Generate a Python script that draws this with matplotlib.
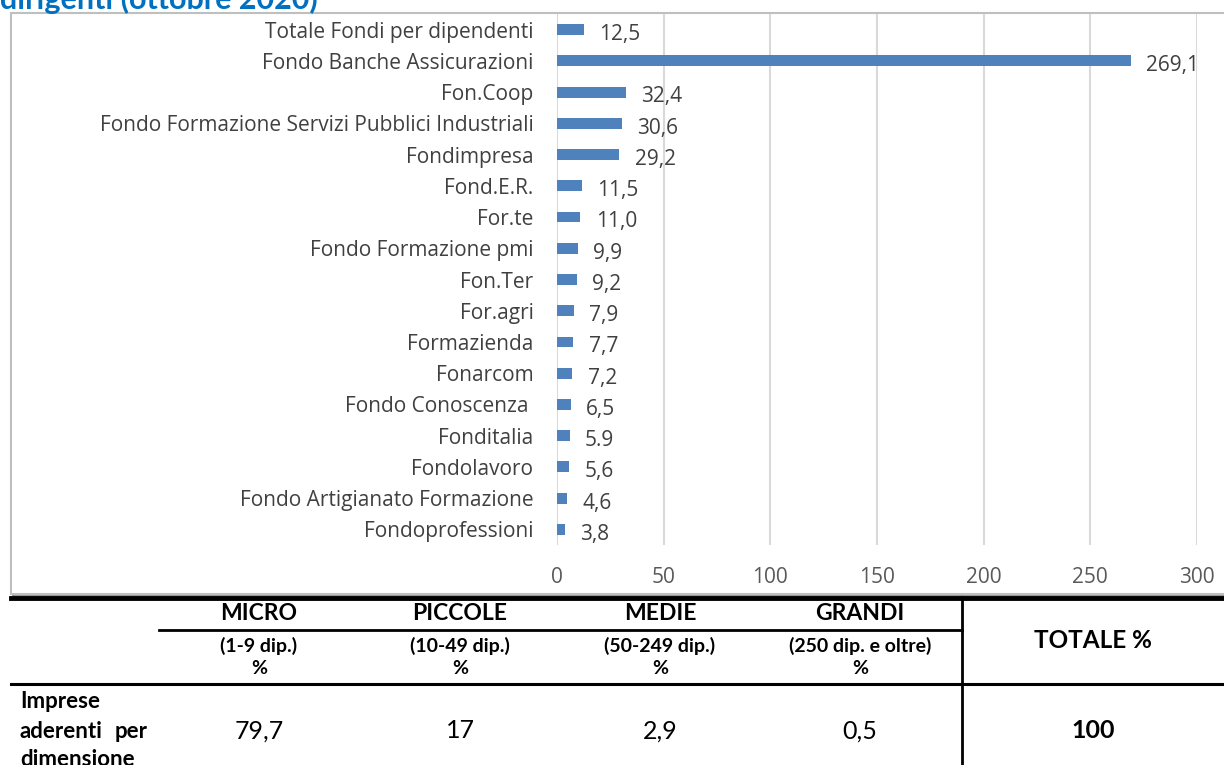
import matplotlib
matplotlib.use("Agg")
import matplotlib.pyplot as plt
from matplotlib.lines import Line2D
from matplotlib.patches import Rectangle

# dati del grafico (dall'alto verso il basso)
fondi = ["Totale Fondi per dipendenti", "Fondo Banche Assicurazioni", "Fon.Coop",
         "Fondo Formazione Servizi Pubblici Industriali", "Fondimpresa", "Fond.E.R.",
         "For.te", "Fondo Formazione pmi", "Fon.Ter", "For.agri", "Formazienda",
         "Fonarcom", "Fondo Conoscenza ", "Fonditalia", "Fondolavoro",
         "Fondo Artigianato Formazione", "Fondoprofessioni"]
valori = [12.5, 269.1, 32.4, 30.6, 29.2, 11.5, 11.0, 9.9, 9.2, 7.9, 7.7, 7.2,
          6.5, 5.9, 5.6, 4.6, 3.8]
etichette = ["12,5", "269,1", "32,4", "30,6", "29,2", "11,5", "11,0", "9,9", "9,2",
             "7,9", "7,7", "7,2", "6,5", "5.9", "5,6", "4,6", "3,8"]
x_ticks = [0, 50, 100, 150, 200, 250, 300]

# dati della tabella
classi = ["MICRO", "PICCOLE", "MEDIE", "GRANDI"]
sottotitoli = ["(1-9 dip.)", "(10-49 dip.)", "(50-249 dip.)", "(250 dip. e oltre)"]
quote = ["79,7", "17", "2,9", "0,5"]
totale = "100"

W, H = 1224, 765
FONT = "Open Sans"
TFONT = "Lato"
GRIGIO = "#404040"


def fx(x):
    return x / W


def fy(y):
    return 1 - y / H


fig = plt.figure(figsize=(W / 100, H / 100), dpi=100)

# titolo tagliato in alto
fig.text(fx(0), fy(9), "dirigenti (ottobre 2020)", color="#0070C0",
         fontsize=22, fontweight="bold", family=TFONT, va="baseline", ha="left")

# cornice del grafico
fig.patches.append(Rectangle((fx(13), fy(596)), fx(1240) - fx(13), fy(14) - fy(596),
                             transform=fig.transFigure, facecolor="none",
                             edgecolor="#7f7f7f", lw=1.2, zorder=0))
fig.patches.append(Rectangle((fx(11), fy(594)), fx(1240) - fx(11), fy(13) - fy(594),
                             transform=fig.transFigure, facecolor="white",
                             edgecolor="#bfbfbf", lw=1.5, zorder=0))

ax = fig.add_axes([fx(557), fy(545), fx(640), 531 / H])
ax.set_zorder(2)
pos = list(range(len(fondi)))
ax.barh(pos, valori, height=0.35, color="#4F81BD", zorder=3)
for p, v, lab in zip(pos, valori, etichette):
    ax.annotate(lab, (v, p), xytext=(11, -3.5), textcoords="offset points",
                va="center", ha="left", fontsize=15, color=GRIGIO, family=FONT)
ax.set_ylim(len(fondi) - 0.5, -0.5)
ax.set_xlim(0, 300)
ax.set_xticks(x_ticks)
ax.set_xticklabels([str(t) for t in x_ticks], fontsize=15, color="#595959", family=FONT)
ax.set_yticks(pos)
ax.set_yticklabels(fondi, fontsize=15, color=GRIGIO, family=FONT)
ax.tick_params(axis="both", length=0)
ax.tick_params(axis="x", pad=16)
ax.tick_params(axis="y", pad=17)
ax.grid(axis="x", color="#D9D9D9", lw=1.5, zorder=0)
ax.set_axisbelow(True)
for s in ax.spines.values():
    s.set_visible(False)
ax.patch.set_alpha(0)


# tabella sotto il grafico
def hline(x0, x1, y, lw):
    fig.lines.append(Line2D([fx(x0), fx(x1)], [fy(y), fy(y)], transform=fig.transFigure,
                            color="black", lw=lw))


def vline(x, y0, y1, lw):
    fig.lines.append(Line2D([fx(x), fx(x)], [fy(y0), fy(y1)], transform=fig.transFigure,
                            color="black", lw=lw))


def testo(x, y, s, size, bold=True, ha="center"):
    fig.text(fx(x), fy(y), s, ha=ha, va="center", fontsize=size,
             fontweight="bold" if bold else "normal", family=TFONT, color="black")


hline(11, W, 597.5, 3.5)
hline(159, 962, 630, 2)
hline(11, W, 684, 2.2)
vline(962, 597, H, 2)

col_x = [259, 460, 660, 860]
for cx, c, s, q in zip(col_x, classi, sottotitoli, quote):
    testo(cx, 614, c, 16.5)
    testo(cx, 646, s, 14)
    testo(cx, 669, "%", 14)
    testo(cx, 731, q, 18, bold=False)

testo(1093, 641, "TOTALE %", 17.5)
testo(1093, 731, totale, 18)
testo(20, 701, "Imprese", 16, ha="left")
testo(20, 732, "aderenti", 16, ha="left")
testo(148, 732, "per", 16, ha="right")
testo(20, 760, "dimensione", 16, ha="left")

fig.savefig("out.png", dpi=100)
